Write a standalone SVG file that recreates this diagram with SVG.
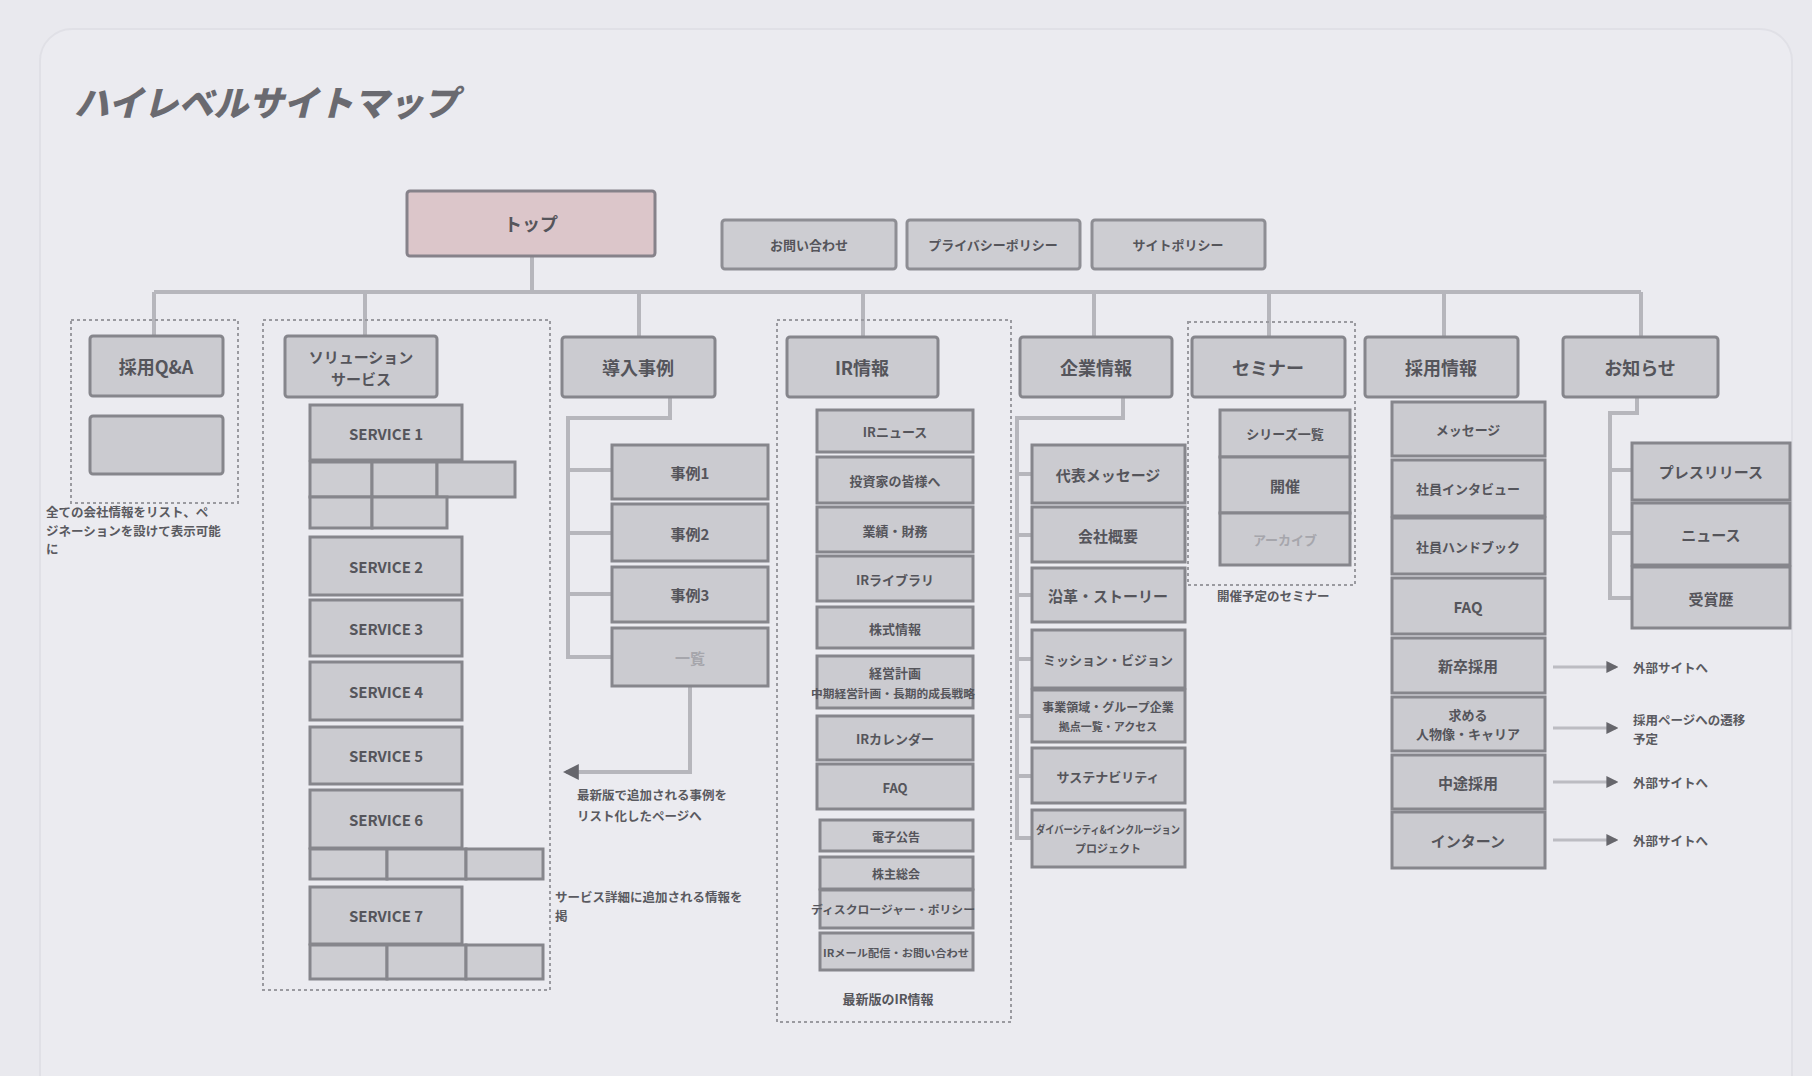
<svg xmlns="http://www.w3.org/2000/svg" width="1812" height="1076" viewBox="0 0 1812 1076">
<defs>
<style>
.bg{fill:#e9e9ee}
.panel{fill:#ebebf0;stroke:#e0e0e6;stroke-width:2}
.box{fill:#cbcbd0;stroke:#86868c;stroke-width:3}
.sm{fill:#cdcdd2;stroke:#86868c;stroke-width:3}
.top{fill:#dcc6ca;stroke:#86828a;stroke-width:3}
.hdr{fill:#cdcdd2;stroke:#8e8e94;stroke-width:3}
.grp{fill:none;stroke:#9a9aa0;stroke-width:2;stroke-dasharray:3 3}
.con{fill:none;stroke:#b6b6bc;stroke-width:4}
.ar{fill:none;stroke:#bcbcc2;stroke-width:3}
.t{font-family:"Noto Sans CJK JP","Noto Sans",sans-serif;font-weight:700;fill:#55555b;text-anchor:middle;dominant-baseline:central}
.t1{font-size:18px}
.t2{font-size:15px}
.t3{font-size:13px}
.faint{fill:#a6a6ac}
.note{font-family:"Noto Sans CJK JP","Noto Sans",sans-serif;font-weight:700;font-size:12.5px;fill:#5a5a60}
.title{font-family:"Noto Sans CJK JP","Noto Sans",sans-serif;font-weight:900;font-size:35px;fill:#6a6a70;font-style:italic}
</style>
<marker id="ah" viewBox="0 0 10 10" refX="8" refY="5" markerWidth="4" markerHeight="4" orient="auto-start-reverse">
<path d="M0 0L10 5L0 10z" fill="#66666c"/>
</marker>
</defs>
<rect class="bg" x="0" y="0" width="1812" height="1076"/>
<rect class="panel" x="40" y="29" width="1752" height="1080" rx="32"/>
<text class="title" x="74" y="116">ハイレベルサイトマップ</text>

<g id="connectors">
<path class="con" d="M532 256V292M154 292H1641"/>
<path class="con" d="M154 292V336M365 292V336M639 292V337M863 292V337M1094 292V337M1269 292V337M1444 292V337M1641 292V337"/>
<path class="con" d="M670 397V418H568V657H612M568 470H612M568 533H612M568 594H612"/>
<path class="con" d="M690 686V772H566" marker-end="url(#ah)"/>
<path class="con" d="M1123 397V418H1017V838H1032M1017 474H1032M1017 535H1032M1017 595H1032M1017 659H1032M1017 716H1032M1017 776H1032"/>
<path class="con" d="M1637 397V413H1610V598H1632M1610 470H1632M1610 533H1632"/>
<path class="ar" d="M1553 667H1616" marker-end="url(#ah)"/>
<path class="ar" d="M1553 728H1616" marker-end="url(#ah)"/>
<path class="ar" d="M1553 782H1616" marker-end="url(#ah)"/>
<path class="ar" d="M1553 840H1616" marker-end="url(#ah)"/>
</g>

<g id="top"><rect class="top" x="407" y="191" width="248" height="65" rx="3"/><text class="t t1" x="531" y="223">トップ</text></g>
<g id="hdr1"><rect class="hdr" x="722" y="220" width="174" height="49" rx="3"/><text class="t t3" x="809" y="244">お問い合わせ</text></g>
<g id="hdr2"><rect class="hdr" x="907" y="220" width="173" height="49" rx="3"/><text class="t t3" x="993" y="244">プライバシーポリシー</text></g>
<g id="hdr3"><rect class="hdr" x="1092" y="220" width="173" height="49" rx="3"/><text class="t t3" x="1178" y="244">サイトポリシー</text></g>

<g id="qa">
<rect class="grp" x="71" y="320" width="167" height="183"/>
<rect class="box" x="90" y="336" width="133" height="60" rx="3"/><text class="t t1" x="156" y="366">採用Q&amp;A</text>
<rect class="box" x="90" y="416" width="133" height="58" rx="3"/>
<text class="note" x="46" y="517" font-size="13">全ての会社情報をリスト、ペ</text>
<text class="note" x="46" y="536" font-size="13">ジネーションを設けて表示可能</text>
<text class="note" x="46" y="554" font-size="13">に</text>
</g>

<g id="service">
<rect class="grp" x="263" y="320" width="287" height="670"/>
<rect class="box" x="285" y="336" width="152" height="61" rx="3"/>
<text class="t t2" x="361" y="356">ソリューション</text><text class="t t2" x="361" y="378">サービス</text>
<rect class="box" x="310" y="405" width="152" height="55"/><text class="t t2" x="386" y="433">SERVICE 1</text>
<rect class="sm" x="310" y="462" width="62" height="35"/><rect class="sm" x="372" y="462" width="65" height="35"/><rect class="sm" x="437" y="462" width="78" height="35"/>
<rect class="sm" x="310" y="497" width="62" height="31"/><rect class="sm" x="372" y="497" width="75" height="31"/>
<rect class="box" x="310" y="537" width="152" height="58"/><text class="t t2" x="386" y="566">SERVICE 2</text>
<rect class="box" x="310" y="600" width="152" height="56"/><text class="t t2" x="386" y="628">SERVICE 3</text>
<rect class="box" x="310" y="662" width="152" height="58"/><text class="t t2" x="386" y="691">SERVICE 4</text>
<rect class="box" x="310" y="727" width="152" height="57"/><text class="t t2" x="386" y="755">SERVICE 5</text>
<rect class="box" x="310" y="790" width="152" height="58"/><text class="t t2" x="386" y="819">SERVICE 6</text>
<rect class="sm" x="310" y="849" width="77" height="30"/><rect class="sm" x="387" y="849" width="79" height="30"/><rect class="sm" x="466" y="849" width="77" height="30"/>
<rect class="box" x="310" y="887" width="152" height="57"/><text class="t t2" x="386" y="915">SERVICE 7</text>
<rect class="sm" x="310" y="945" width="77" height="34"/><rect class="sm" x="387" y="945" width="79" height="34"/><rect class="sm" x="466" y="945" width="77" height="34"/>
<text class="note" x="555" y="902">サービス詳細に追加される情報を</text>
<text class="note" x="555" y="921">掲</text>
</g>

<g id="cases">
<rect class="box" x="562" y="337" width="153" height="60" rx="3"/><text class="t t1" x="638" y="367">導入事例</text>
<rect class="box" x="612" y="445" width="156" height="54"/><text class="t t2" x="690" y="472">事例1</text>
<rect class="box" x="612" y="504" width="156" height="57"/><text class="t t2" x="690" y="533">事例2</text>
<rect class="box" x="612" y="567" width="156" height="55"/><text class="t t2" x="690" y="594">事例3</text>
<rect class="box" x="612" y="628" width="156" height="58"/><text class="t t2 faint" x="690" y="657">一覧</text>
<text class="note" x="577" y="800">最新版で追加される事例を</text>
<text class="note" x="577" y="821">リスト化したページへ</text>
</g>

<g id="ir">
<rect class="grp" x="777" y="320" width="234" height="702"/>
<rect class="box" x="787" y="337" width="151" height="60" rx="3"/><text class="t t1" x="862" y="367">IR情報</text>
<rect class="box" x="817" y="410" width="156" height="42"/><text class="t t3" x="895" y="431">IRニュース</text>
<rect class="box" x="817" y="457" width="156" height="46"/><text class="t t3" x="895" y="480">投資家の皆様へ</text>
<rect class="box" x="817" y="507" width="156" height="45"/><text class="t t3" x="895" y="530">業績・財務</text>
<rect class="box" x="817" y="556" width="156" height="45"/><text class="t t3" x="895" y="579">IRライブラリ</text>
<rect class="box" x="817" y="607" width="156" height="41"/><text class="t t3" x="895" y="628">株式情報</text>
<rect class="box" x="817" y="656" width="156" height="52"/><text class="t t3" x="895" y="672">経営計画</text><text class="t" x="893" y="693" font-size="11" textLength="164" lengthAdjust="spacingAndGlyphs">中期経営計画・長期的成長戦略</text>
<rect class="box" x="817" y="716" width="156" height="44"/><text class="t t3" x="895" y="738">IRカレンダー</text>
<rect class="box" x="817" y="764" width="156" height="45"/><text class="t t3" x="895" y="787">FAQ</text>
<rect class="sm" x="820" y="820" width="153" height="31"/><text class="t" font-size="12" x="896" y="836">電子公告</text>
<rect class="sm" x="820" y="857" width="153" height="32"/><text class="t" font-size="12" x="896" y="873">株主総会</text>
<rect class="sm" x="820" y="890" width="153" height="38"/><text class="t" x="893" y="909" font-size="11" textLength="164" lengthAdjust="spacingAndGlyphs">ディスクロージャー・ポリシー</text>
<rect class="sm" x="820" y="933" width="153" height="37"/><text class="t" x="896" y="952" font-size="10" textLength="146" lengthAdjust="spacingAndGlyphs">IRメール配信・お問い合わせ</text>
<text class="t t3" x="888" y="998">最新版のIR情報</text>
</g>

<g id="corp">
<rect class="box" x="1020" y="337" width="152" height="60" rx="3"/><text class="t t1" x="1096" y="367">企業情報</text>
<rect class="box" x="1032" y="445" width="153" height="58"/><text class="t t2" x="1108" y="474">代表メッセージ</text>
<rect class="box" x="1032" y="507" width="153" height="55"/><text class="t t2" x="1108" y="535">会社概要</text>
<rect class="box" x="1032" y="568" width="153" height="54"/><text class="t t2" x="1108" y="595">沿革・ストーリー</text>
<rect class="box" x="1032" y="630" width="153" height="58"/><text class="t t3" x="1108" y="659">ミッション・ビジョン</text>
<rect class="box" x="1032" y="690" width="153" height="52"/><text class="t" font-size="12" x="1108" y="706">事業領域・グループ企業</text><text class="t" font-size="11" x="1108" y="726">拠点一覧・アクセス</text>
<rect class="box" x="1032" y="748" width="153" height="55"/><text class="t t3" x="1108" y="776">サステナビリティ</text>
<rect class="box" x="1032" y="810" width="153" height="57"/><text class="t" x="1108" y="829" font-size="11" textLength="144" lengthAdjust="spacingAndGlyphs">ダイバーシティ&amp;インクルージョン</text><text class="t" font-size="11" x="1108" y="848">プロジェクト</text>
</g>

<g id="seminar">
<rect class="grp" x="1188" y="322" width="167" height="263"/>
<rect class="box" x="1192" y="337" width="153" height="60" rx="3"/><text class="t t1" x="1268" y="367">セミナー</text>
<rect class="box" x="1220" y="410" width="130" height="47"/><text class="t t3" x="1285" y="433">シリーズ一覧</text>
<rect class="box" x="1220" y="457" width="130" height="56"/><text class="t t2" x="1285" y="485">開催</text>
<rect class="box" x="1220" y="513" width="130" height="52"/><text class="t t3 faint" x="1285" y="539">アーカイブ</text>
<text class="note" x="1217" y="601">開催予定のセミナー</text>
</g>

<g id="recruit">
<rect class="box" x="1365" y="337" width="153" height="60" rx="3"/><text class="t t1" x="1441" y="367">採用情報</text>
<rect class="box" x="1392" y="402" width="153" height="54"/><text class="t t3" x="1468" y="429">メッセージ</text>
<rect class="box" x="1392" y="460" width="153" height="56"/><text class="t t3" x="1468" y="488">社員インタビュー</text>
<rect class="box" x="1392" y="518" width="153" height="56"/><text class="t t3" x="1468" y="546">社員ハンドブック</text>
<rect class="box" x="1392" y="578" width="153" height="56"/><text class="t t2" x="1468" y="606">FAQ</text>
<rect class="box" x="1392" y="638" width="153" height="55"/><text class="t t2" x="1468" y="665">新卒採用</text>
<rect class="box" x="1392" y="697" width="153" height="54"/><text class="t t3" x="1468" y="714">求める</text><text class="t t3" x="1468" y="733">人物像・キャリア</text>
<rect class="box" x="1392" y="755" width="153" height="54"/><text class="t t2" x="1468" y="782">中途採用</text>
<rect class="box" x="1392" y="812" width="153" height="56"/><text class="t t2" x="1468" y="840">インターン</text>
<text class="note" x="1633" y="667" dominant-baseline="central" font-size="11.5">外部サイトへ</text>
<text class="note" x="1633" y="719" dominant-baseline="central" font-size="11">採用ページへの遷移</text>
<text class="note" x="1633" y="738" dominant-baseline="central" font-size="11">予定</text>
<text class="note" x="1633" y="782" dominant-baseline="central" font-size="11.5">外部サイトへ</text>
<text class="note" x="1633" y="840" dominant-baseline="central" font-size="11.5">外部サイトへ</text>
</g>

<g id="news">
<rect class="box" x="1563" y="337" width="155" height="60" rx="3"/><text class="t t1" x="1640" y="367">お知らせ</text>
<rect class="box" x="1632" y="443" width="158" height="57"/><text class="t t2" x="1711" y="471">プレスリリース</text>
<rect class="box" x="1632" y="503" width="158" height="62"/><text class="t t2" x="1711" y="534">ニュース</text>
<rect class="box" x="1632" y="567" width="158" height="61"/><text class="t t2" x="1711" y="598">受賞歴</text>
</g>
</svg>
